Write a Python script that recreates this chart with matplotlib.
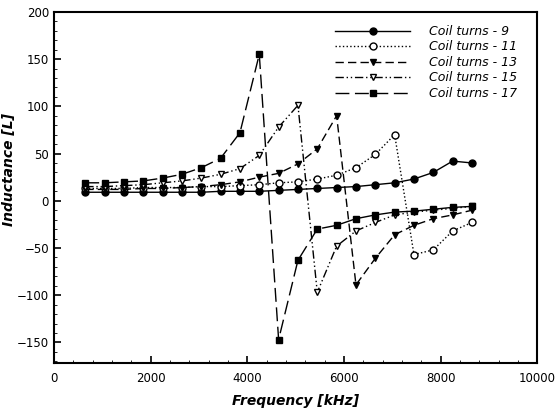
import numpy as np
import matplotlib.pyplot as plt
from matplotlib.ticker import MultipleLocator

freq = [650, 1050, 1450, 1850, 2250, 2650, 3050, 3450, 3850, 4250, 4650,
        5050, 5450, 5850, 6250, 6650, 7050, 7450, 7850, 8250, 8650]

turns_9 = [9, 9, 9, 9, 9, 9, 9, 10, 10, 10, 11,
           12, 13, 14, 15, 17, 19, 23, 30, 42, 40]
turns_11 = [13, 13, 13, 14, 14, 14, 15, 15, 16, 17, 19,
            20, 23, 27, 35, 49, 70, -57, -52, -32, -23]
turns_13 = [12, 12, 12, 13, 13, 14, 15, 17, 20, 25, 29,
            39, 55, 90, -89, -61, -36, -26, -19, -15, -10]
turns_15 = [15, 15, 16, 17, 19, 21, 24, 28, 34, 48, 78,
            101, -97, -48, -32, -23, -15, -12, -10, -8, -6]
turns_17 = [19, 19, 20, 21, 24, 28, 35, 45, 72, 155, -147,
            -63, -30, -26, -19, -15, -12, -11, -9, -7, -6]

labels = ['Coil turns - 9', 'Coil turns - 11', 'Coil turns - 13',
          'Coil turns - 15', 'Coil turns - 17']

fig = plt.figure(figsize=(5.55, 4.09), dpi=100)
ax = fig.add_axes([0.097, 0.112, 0.871, 0.859])

ms = 5
ax.plot(freq, turns_9, '-', color='black', marker='o', ms=ms, lw=1, label=labels[0])
ax.plot(freq, turns_11, ':', color='black', marker='o', mfc='white', ms=ms, lw=1, label=labels[1])
ax.plot(freq, turns_13, '--', color='black', marker='v', ms=ms, lw=1, label=labels[2], dashes=(6, 3))
ax.plot(freq, turns_15, '-.', color='black', marker='v', mfc='white', ms=ms, lw=1, label=labels[3],
        dashes=(6, 2, 1, 2, 1, 2))
ax.plot(freq, turns_17, '--', color='black', marker='s', ms=ms, lw=1, label=labels[4], dashes=(10, 4))

ax.set_xlim(0, 10000)
ax.set_ylim(-172, 200)
ax.xaxis.set_major_locator(MultipleLocator(2000))
ax.xaxis.set_minor_locator(MultipleLocator(400))
ax.yaxis.set_major_locator(MultipleLocator(50))
ax.yaxis.set_minor_locator(MultipleLocator(10))
ax.tick_params(which='both', direction='in', top=False, right=False, labelsize=8.5)
ax.tick_params(axis='x', pad=6)
ax.tick_params(which='major', length=5, width=1.2)
ax.tick_params(which='minor', length=2.5)
for t in ax.get_xticklabels() + ax.get_yticklabels():
    t.set_family(['Liberation Sans Narrow', 'DejaVu Sans'])
for s in ax.spines.values():
    s.set_linewidth(1.5)

ax.set_xlabel('Frequency [kHz]', fontsize=10, style='italic', fontweight='bold', labelpad=7)
ax.set_ylabel('Inductance [L]', fontsize=10, style='italic', fontweight='bold')
ax.yaxis.set_label_coords(-0.079, 0.55)

leg = ax.legend(loc='upper right', bbox_to_anchor=(0.969, 0.977), frameon=False,
                fontsize=9, handlelength=6, labelspacing=0.2, borderaxespad=0,
                handletextpad=1.5)
for t in leg.get_texts():
    t.set_fontstyle('italic')

fig.savefig('out.png', dpi=100)
